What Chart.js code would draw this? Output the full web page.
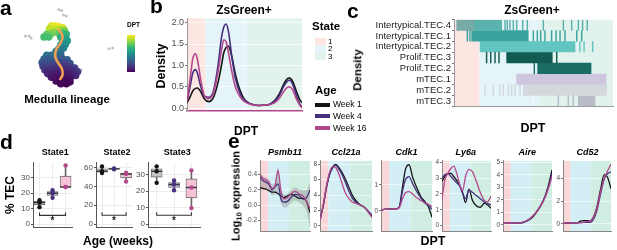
<!DOCTYPE html>
<html>
<head>
<meta charset="utf-8">
<script src="https://cdn.jsdelivr.net/npm/chart.js@4.4.0/dist/chart.umd.min.js"></script>
<style>
  body { margin: 0; width: 617px; height: 250px; background: #fff; position: relative; overflow: hidden;
         font-family: "Liberation Sans", Arial, sans-serif; color: #000; }
  canvas { position: absolute; }
  .t { position: absolute; white-space: nowrap; line-height: 1; }
  .sw { position: absolute; }
  .sub { font-size: 70%; position: relative; top: 0.25em; }
</style>
</head>
<body>
<script>
// ---------- data ----------
const ageLabels = ['Week 1', 'Week 4', 'Week 16'];
const stateLabels = ['1', '2', '3'];

// a: UMAP of the medulla lineage, coloured by DPT
const umap1 = [5.0, 5.4, 5.8, 6.2, 4.8, 5.2, 5.6, 6.0, 6.4, 5.2, 4.5, 4.9, 4.2, 4.7,
  5.8, 6.2, 6.6, 6.0, 6.4, 6.7, 6.2, 6.5, 6.0, 6.3, 5.8, 5.5, 6.0,
  4.5, 5.0, 5.5, 6.0, 4.2, 4.7, 5.2, 5.7, 6.2, 6.7,
  4.0, 4.5, 5.0, 5.5, 6.0, 6.5, 7.0, 4.1, 4.6, 5.1, 5.6, 6.1, 6.6, 7.1, 7.5,
  4.3, 4.8, 5.3, 5.8, 6.3, 6.8, 7.3, 7.8, 4.6, 5.1, 5.6, 6.1, 6.6, 7.1, 7.6,
  5.0, 5.5, 6.0, 6.5, 7.0, 5.5, 6.0, 6.5, 7.0, 6.0, 6.6];
const umap2 = [2.4, 2.4, 2.5, 2.6, 2.7, 2.7, 2.8, 2.8, 2.9, 3.1, 3.3, 3.3, 3.6, 3.6,
  3.2, 3.2, 3.3, 3.6, 3.7, 4.0, 4.1, 4.4, 4.5, 4.8, 4.9, 5.2, 5.2,
  5.6, 5.6, 5.6, 5.6, 6.0, 6.0, 6.0, 6.0, 6.0, 6.1,
  6.4, 6.4, 6.4, 6.4, 6.4, 6.4, 6.5, 6.8, 6.8, 6.8, 6.8, 6.8, 6.8, 6.9, 7.0,
  7.2, 7.2, 7.2, 7.2, 7.2, 7.2, 7.3, 7.4, 7.6, 7.6, 7.6, 7.6, 7.6, 7.7, 7.8,
  8.0, 8.0, 8.0, 8.0, 8.1, 8.4, 8.4, 8.4, 8.5, 8.7, 8.7];
const umapDpt = [.95, .97, .98, .95, .9, .93, .9, .88, .8, .82, .75, .78, .7, .7,
  .75, .7, .65, .62, .6, .55, .55, .5, .48, .45, .42, .4, .4,
  .38, .36, .35, .33, .33, .3, .3, .3, .28, .3,
  .27, .25, .25, .24, .22, .22, .25, .2, .2, .18, .17, .17, .16, .18, .2,
  .15, .14, .13, .12, .12, .12, .12, .15, .1, .09, .08, .08, .08, .08, .1,
  .06, .05, .04, .05, .05, .03, .02, .02, .03, .01, .01];
const otherUmap1 = [5.8, 6.1, 6.3, 6.6, 2.2, 2.6, 2.8, 11.2, 11.6, 7.9, 8.2];
const otherUmap2 = [0.6, 0.7, 1.2, 1.3, 3.5, 3.5, 3.7, 4.9, 4.8, 7.1, 7.2];
const trajUmap1 = [5.7, 6.2, 6.0, 5.5, 5.4, 5.7, 6.1, 6.2, 5.9];
const trajUmap2 = [2.7, 3.5, 4.2, 5.0, 5.7, 6.4, 7.0, 7.7, 8.3];

// b: DPT density per age (ZsGreen+)
const densX = [0, .03, .05, .074, .09, .12, .15, .19, .23, .27, .30, .32, .34, .36, .39, .42, .46, .50, .55, .62, .70, .76, .80, .84, .87, .89, .92, .95, .98, 1];
const densWeek1 = [.12, .28, .4, .46, .47, .38, .22, .15, .25, .6, 1.0, 1.3, 1.42, 1.45, 1.2, .8, .42, .2, .1, .06, .07, .17, .32, .55, .68, .7, .62, .4, .2, .12];
const densWeek4 = [.15, .55, .82, .9, .82, .5, .28, .25, .4, 1.0, 1.65, 1.9, 1.97, 1.8, 1.2, .7, .35, .18, .1, .06, .07, .15, .28, .5, .62, .65, .55, .3, .1, .03];
const densWeek16 = [.15, .75, 1.15, 1.27, 1.15, .65, .3, .22, .35, .85, 1.35, 1.6, 1.55, 1.3, .85, .5, .27, .15, .09, .06, .07, .12, .22, .38, .48, .5, .42, .22, .07, 0];
const densTicks = [0, 0.5, 1, 1.5, 2];
const stateBreaks = [0, 0.16, 0.53, 1];

// c: cells of each type along DPT
const cellTypes = ['Intertypical.TEC.4', 'Intertypical.TEC.1', 'Intertypical.TEC.2', 'Prolif.TEC.3',
  'Prolif.TEC.2', 'mTEC.1', 'mTEC.2', 'mTEC.3'];
const cellBars = [[[.017, .13], [.13, .30]], [[.111, .467]], [[.164, .761]], [[.331, .618]],
  [[.526, .862]], [[.394, .956]], [[.436, .96]], [[.782, .887]]];
const cellTicks = [
  [.321, .335, .352, .373, .394, .432, .461, .562, .688, .740, .782, .809, .838],
  [.084, .1, .499, .524, .545, .572, .614, .642, .667, .698, .772, .803],
  [.792, .818, .872],
  [.205, .231, .258, .283, .646],
  [.505],
  [],
  [.195, .247, .289, .310, .342, .363, .384, .415],
  [.656, .719, .75]];

// d: % TEC per state and age
const state1Dots = [[11, 14, 15.5], [17, 20, 22], [24, 24, 38]];
const state2Dots = [[54, 56, 61], [58, 58.5, 59], [45, 53, 54.5]];
const state3Dots = [[25, 32, 35], [20.5, 24, 26.5], [9.7, 22.2, 32.6]];
const state1Ticks = [0, 10, 20, 30];
const state2Ticks = [0, 20, 40, 60];
const state3Ticks = [0, 10, 20, 30];
const bracketY = [5.7, 9.4, 5.4];
const bracketTop = [7.6, 12.6, 7.2];
const starY = [1.6, 3.2, 1.5];

// e: smoothed expression along DPT
const eX = [0, .06, .12, .18, .24, .3, .36, .42, .48, .55, .62, .7, .78, .86, .93, 1];
const psmb11Week1 = [.23, .22, .21, .19, .17, .17, .15, .12, .1, .12, .14, .12, .09, .09, .05, -.1];
const psmb11Week4 = [.37, .32, .3, .27, .2, .24, .28, .08, .04, .05, .1, .14, .13, .08, .1, .2];
const psmb11Week16 = [.4, .35, .33, .3, .22, .25, .46, .18, .08, .1, .15, .18, .15, .12, .05, -.05];
const psmb11Lo = [.17, .2, .2, .18, .13, .14, .16, .02, -.03, -.02, .03, .06, .04, -.01, -.08, -.3];
const psmb11Hi = [.44, .38, .36, .33, .27, .3, .5, .22, .14, .15, .2, .23, .21, .2, .2, .3];
const ccl21aWeek1 = [.8, 2.5, 4.8, 6.6, 7.6, 8.0, 7.6, 7.0, 6.2, 5.1, 4.0, 3.2, 2.7, 2.4, 1.8, 1.2];
const ccl21aWeek4 = [.8, 2.6, 4.9, 6.6, 7.5, 7.9, 7.4, 6.7, 5.8, 4.6, 3.6, 3.0, 2.7, 2.4, 1.9, 1.4];
const ccl21aWeek16 = [.8, 2.7, 5.1, 6.9, 7.7, 7.6, 6.8, 5.6, 4.4, 3.6, 3.1, 2.9, 2.7, 2.4, 1.8, 1.1];
const cdk1Week1 = [.02, .05, .06, .06, .07, .07, .15, .9, 1.6, 1.78, 1.3, .9, .55, .35, .15, -.25];
const cdk1Week4 = [.02, .05, .06, .06, .07, .07, .15, .75, 1.2, 1.32, 1.05, .75, .5, .3, .2, .05];
const cdk1Week16 = [.02, .05, .06, .06, .07, .07, .12, .45, .7, .74, .65, .5, .4, .3, .25, .15];
const ly6aWeek1 = [2.8, 3.1, 3.3, 3.3, 3.1, 2.85, 2.55, 2.1, 1.45, 2.3, 1.6, 1.25, 1.15, 1.4, 1.3, 1.1];
const ly6aWeek4 = [3.0, 3.2, 3.3, 3.1, 2.9, 2.7, 2.5, 2.05, 1.7, 2.25, 2.1, 1.9, 1.7, 1.5, 1.4, 1.3];
const ly6aWeek16 = [1.7, 2.9, 3.3, 3.6, 3.75, 3.3, 2.6, 2.2, 3.1, 3.55, 3.4, 2.8, 2.1, 1.6, 1.5, 1.85];
const aireWeek1 = [.12, .15, .16, .17, .17, .16, .16, .2, .3, .45, .7, 1.1, 1.6, 2.3, 3.2, 4.4];
const aireWeek4 = [.12, .15, .16, .17, .17, .16, .17, .22, .33, .5, .75, 1.15, 1.65, 2.3, 3.1, 4.1];
const aireWeek16 = [.12, .15, .16, .17, .17, .17, .18, .24, .35, .52, .78, 1.15, 1.6, 2.2, 2.95, 3.9];
const cd52Week1 = [.05, .07, .08, .08, .09, .1, .25, .3, .3, .28, .5, 1.4, 3.0, 4.35, 4.1, 3.1];
const cd52Week4 = [.05, .07, .08, .08, .09, .1, .12, .14, .15, .15, .3, 1.1, 2.6, 4.0, 4.45, 4.6];
const cd52Week16 = [.05, .07, .08, .08, .09, .1, .12, .15, .2, .25, .45, 1.3, 2.8, 4.0, 4.7, 5.3];
const psmb11Ticks = [-0.2, 0, 0.2, 0.4];
const ccl21aTicks = [0, 2, 4, 6, 8];
const cdk1Ticks = [0, 1];
const ly6aTicks = [0, 1, 2, 3, 4];
const aireTicks = [0, 1, 2, 3, 4, 5];
const cd52Ticks = [0, 2, 4];
const eBreaks = [0, 0.16, 0.58, 1];

// ---------- styles ----------
const ageColors = ['#141414', '#46307e', '#b4488c'];
const shadeB = ['#fde5e2', '#e4f4f8', '#e2f3ed'];
const shadeE = ['#f9d6d7', '#d3eef5', '#cfeee1'];
const boxFill = ['#c4c4c4', '#b6b0d5', '#f4c3d8'];
const cellColors = ['#5ab2ad', '#3aa39e', '#63c5bf', '#115b53', '#1b6c64', '#cdc6de', '#d4d8dc', '#b9bcc6'];
const cellColorsAlt = ['#78aaa7', null, null, null, null, null, null, null];
const tickHalfWidth = 0.0025;
const viridisStops = ['#440154', '#482878', '#3e4989', '#31688e', '#26828e', '#1f9e89', '#35b779', '#6ece58', '#b5de2b', '#fde725'];

Chart.defaults.font.family = '"Liberation Sans", Arial, sans-serif';
Chart.defaults.color = '#4d4d4d';

function viridis(v) {
  const p = Math.max(0, Math.min(1, v)) * (viridisStops.length - 1);
  const i = Math.min(Math.floor(p), viridisStops.length - 2), f = p - i;
  const a = viridisStops[i], b = viridisStops[i + 1];
  const ch = (h, k) => parseInt(h.substr(1 + 2 * k, 2), 16);
  return 'rgb(' + [0, 1, 2].map(k => Math.round(ch(a, k) + (ch(b, k) - ch(a, k)) * f)).join(',') + ')';
}

function makeCanvas(b) {
  const c = document.createElement('canvas');
  const w = Math.round(b.R - b.L + b.yW + b.pr), h = Math.round(b.B - b.T + b.pt + b.xH);
  c.width = w; c.height = h;
  c.style.width = w + 'px'; c.style.height = h + 'px';
  c.style.left = (b.L - b.yW) + 'px'; c.style.top = (b.T - b.pt) + 'px';
  document.body.appendChild(c);
  return c;
}

function baseOptions(b) {
  return {
    responsive: false, animation: false, devicePixelRatio: 1,
    layout: { padding: { top: b.pt, right: b.pr, left: 0, bottom: 0 } },
    plugins: { legend: { display: false }, tooltip: { enabled: false } },
  };
}

function shadePlugin(breaks, colors) {
  return {
    id: 'shade',
    beforeDraw(chart) {
      const { ctx, chartArea: a, scales: { x } } = chart;
      ctx.save();
      colors.forEach((col, i) => {
        const x0 = x.getPixelForValue(breaks[i]), x1 = x.getPixelForValue(breaks[i + 1]);
        ctx.fillStyle = col;
        ctx.fillRect(x0, a.top, x1 - x0, a.bottom - a.top);
      });
      ctx.restore();
    }
  };
}

function label(txt, x, y, size, o = {}) {
  const d = document.createElement('div');
  d.className = 't';
  d.innerHTML = txt;
  d.style.fontSize = size + 'px';
  d.style.fontWeight = o.bold === false ? 'normal' : 'bold';
  if (o.italic) d.style.fontStyle = 'italic';
  if (o.color) d.style.color = o.color;
  d.style.left = x + 'px';
  let tr = '';
  if (o.rot) {
    d.style.top = y + 'px';
    tr = 'translate(-50%,-50%) rotate(-90deg)';
  } else {
    d.style.top = (y - 0.846 * size) + 'px';
    if (o.align === 'c') tr = 'translateX(-50%)';
    if (o.align === 'r') tr = 'translateX(-100%)';
  }
  d.style.transform = tr;
  document.body.appendChild(d);
}

function swatch(x, y, w, h, col) {
  const d = document.createElement('div');
  d.className = 'sw';
  Object.assign(d.style, { left: x + 'px', top: y + 'px', width: w + 'px', height: h + 'px', background: col });
  document.body.appendChild(d);
}

const pts = (xs, ys) => xs.map((x, i) => ({ x, y: ys[i] }));
const fixTicks = arr => s => { s.ticks = arr.map(v => ({ value: v })); };

// ---------- a ----------
{
  const b = { L: 15, R: 125, T: 0, B: 95, yW: 0, xH: 0, pt: 0, pr: 0 };
  new Chart(makeCanvas(b), {
    type: 'scatter',
    data: { datasets: [
      { type: 'line', data: pts(trajUmap1, trajUmap2), borderColor: '#f0a055', borderWidth: 2.6,
        pointRadius: 0, tension: 0.4, order: 0 },
      { data: pts(umap1, umap2), pointRadius: 3.8, pointBorderWidth: 0,
        pointBackgroundColor: ctx => viridis(umapDpt[ctx.dataIndex]), order: 1 },
      { data: pts(otherUmap1, otherUmap2), pointRadius: 1.5, pointBorderWidth: 0,
        pointBackgroundColor: '#c2c2c2', order: 2 },
    ] },
    options: { ...baseOptions(b),
      scales: { x: { display: false, min: 1.5, max: 12.5 }, y: { display: false, reverse: true, min: 0, max: 9.5 } } }
  });
  const bar = document.createElement('div');
  Object.assign(bar.style, { position: 'absolute', left: '127px', top: '35px', width: '8px', height: '37px',
    background: 'linear-gradient(to top,' + viridisStops.join(',') + ')' });
  document.body.appendChild(bar);
  label('a', 0, 15, 21);
  label('DPT', 127, 27.5, 6.5);
  label('Medulla lineage', 67, 104, 11.5, { align: 'c' });
}

// ---------- b ----------
{
  const b = { L: 187, R: 302, T: 15, B: 116, yW: 30, xH: 1, pt: 3, pr: 2 };
  const series = [densWeek1, densWeek4, densWeek16];
  new Chart(makeCanvas(b), {
    type: 'line',
    data: { datasets: series.map((s, i) => ({
      data: pts(densX, s), borderColor: ageColors[i], borderWidth: 1.6, pointRadius: 0,
      cubicInterpolationMode: 'monotone', order: 3 - i })) },
    options: { ...baseOptions(b),
      scales: {
        x: { type: 'linear', min: 0, max: 1, ticks: { display: false },
             grid: { color: 'rgba(255,255,255,0.75)', drawTicks: false },
             border: { color: ageColors[2], width: 1.5 }, afterFit: s => { s.height = b.xH; } },
        y: { min: -0.06, max: 2.1, afterBuildTicks: fixTicks(densTicks),
             ticks: { font: { size: 9 }, padding: 1, callback: v => v.toFixed(1) },
             grid: { color: 'rgba(255,255,255,0.75)', tickColor: '#777', tickLength: 2 },
             border: { color: '#999', width: 1 }, afterFit: s => { s.width = b.yW; } }
      } },
    plugins: [shadePlugin(stateBreaks, shadeB)]
  });
  label('b', 150, 13, 21);
  label('ZsGreen+', 244, 14.5, 12, { align: 'c' });
  label('Density', 161, 66, 12.5, { rot: true });
  label('DPT', 246, 135, 12, { align: 'c' });

  // legend
  label('State', 312, 31, 11.5);
  stateLabels.forEach((s, i) => {
    swatch(315, 37.5 + i * 7.5, 11, 7.5, shadeB[i]);
    label(s, 328, 44.5 + i * 7.5, 8, { bold: false });
  });
  label('Age', 315, 95, 11.5);
  ageLabels.forEach((s, i) => {
    swatch(315, 102.5 + i * 11.7, 15, 4, ageColors[i]);
    label(s, 333, 107.5 + i * 11.7, 8.5, { bold: false });
  });
}

// ---------- c ----------
{
  const b = { L: 454, R: 613, T: 15, B: 112, yW: 100, xH: 1, pt: 2, pr: 2 };
  const datasets = [];
  cellTypes.forEach((name, r) => {
    datasets.push({ grouped: false, barThickness: 10.5, order: 2,
      data: cellBars[r].map(seg => ({ x: seg, y: name })),
      backgroundColor: cellBars[r].map((seg, k) => (k === 0 && cellColorsAlt[r]) ? cellColorsAlt[r] : cellColors[r]) });
    datasets.push({ grouped: false, barThickness: 10.5, order: 1,
      data: cellTicks[r].map(t => ({ x: [t - tickHalfWidth, t + tickHalfWidth], y: name })),
      backgroundColor: cellColors[r] });
  });
  new Chart(makeCanvas(b), {
    type: 'bar',
    data: { labels: cellTypes, datasets },
    options: { ...baseOptions(b), indexAxis: 'y',
      scales: {
        x: { type: 'linear', min: 0, max: 1, ticks: { display: false },
             grid: { color: 'rgba(255,255,255,0.7)', drawTicks: false },
             border: { color: '#999', width: 1 }, afterFit: s => { s.height = b.xH; } },
        y: { type: 'category', offset: true,
             ticks: { font: { size: 9.5 }, color: '#222', padding: 1, autoSkip: false },
             grid: { drawOnChartArea: false, tickLength: 2, tickColor: '#777' },
             border: { color: '#999', width: 1 }, afterFit: s => { s.width = b.yW; } }
      } },
    plugins: [shadePlugin(stateBreaks, shadeB)]
  });
  label('c', 347, 18, 21);
  label('ZsGreen+', 532, 14, 12, { align: 'c' });
  label('Density', 358, 70, 11.5, { rot: true });
  label('DPT', 533, 133, 12.5, { align: 'c' });
}

// ---------- d ----------
function quantile(arr, p) {
  const s = [...arr].sort((a, b) => a - b);
  const h = (s.length - 1) * p, lo = Math.floor(h);
  return s[lo] + (s[Math.min(lo + 1, s.length - 1)] - s[lo]) * (h - lo);
}
{
  const stateDots = [state1Dots, state2Dots, state3Dots];
  const stateTicks = [state1Ticks, state2Ticks, state3Ticks];
  const boxes = [
    { L: 32.7, R: 78, min: -1.9, max: 39.6 },
    { L: 96, R: 138, min: -3.1, max: 64.8 },
    { L: 148.3, R: 206, min: -1.8, max: 37.1 }];
  boxes.forEach((bx, s) => {
    const b = { ...bx, T: 158, B: 232.7, yW: 16, xH: 1, pt: 2, pr: 1 };
    const dots = stateDots[s];
    const q1 = dots.map(d => quantile(d, 0.25)), q3 = dots.map(d => quantile(d, 0.75));
    const med = dots.map(d => quantile(d, 0.5));
    const whisk = dots.map((d, i) => {
      const iqr = q3[i] - q1[i];
      const inside = d.filter(v => v >= q1[i] - 1.5 * iqr && v <= q3[i] + 1.5 * iqr);
      return [Math.min(...inside), Math.max(...inside)];
    });
    const dotData = [];
    dots.forEach((d, i) => d.forEach(v => dotData.push({ x: ageLabels[i], y: v })));
    const starPlugin = {
      id: 'star',
      afterDatasetsDraw(chart) {
        const { ctx, scales: { x, y } } = chart;
        ctx.save();
        ctx.fillStyle = '#222';
        ctx.font = 'bold 10px "Liberation Sans", Arial, sans-serif';
        ctx.textAlign = 'center'; ctx.textBaseline = 'middle';
        ctx.fillText('*', x.getPixelForValue(1), y.getPixelForValue(starY[s]));
        ctx.restore();
      }
    };
    new Chart(makeCanvas(b), {
      type: 'bar',
      data: { labels: ageLabels, datasets: [
        { data: whisk, grouped: false, barThickness: 1, backgroundColor: '#666', order: 4 },
        { data: q1.map((v, i) => [v, q3[i]]), grouped: false, barThickness: 11, backgroundColor: boxFill,
          borderColor: '#666', borderWidth: 0.8, borderSkipped: false, order: 3 },
        { type: 'line', data: med, showLine: false, pointStyle: 'line', pointRadius: 5.5,
          pointBorderColor: '#333', pointBorderWidth: 1.4, order: 2 },
        { type: 'line', data: dotData, showLine: false, pointRadius: 2.2, pointBorderWidth: 0,
          pointBackgroundColor: ctx => ageColors[ageLabels.indexOf(ctx.raw.x)], order: 1 },
        { type: 'line', data: [{ x: ageLabels[0], y: bracketTop[s] }, { x: ageLabels[0], y: bracketY[s] },
          { x: ageLabels[2], y: bracketY[s] }, { x: ageLabels[2], y: bracketTop[s] }],
          borderColor: '#333', borderWidth: 1.1, pointRadius: 0, tension: 0, order: 0 },
      ] },
      options: { ...baseOptions(b),
        scales: {
          x: { ticks: { display: false }, grid: { color: '#ececec', offset: false, drawTicks: false },
               border: { color: '#555', width: 1 }, afterFit: sc => { sc.height = b.xH; } },
          y: { min: b.min, max: b.max, afterBuildTicks: fixTicks(stateTicks[s]),
               ticks: { font: { size: 8 }, padding: 1 },
               grid: { color: '#ececec', tickColor: '#555', tickLength: 2 },
               border: { color: '#555', width: 1 }, afterFit: sc => { sc.width = b.yW; } }
        } },
      plugins: [starPlugin]
    });
    label('State' + (s + 1), (b.L + b.R) / 2, 156, 9, { align: 'c' });
  });
  label('d', 0, 149, 21);
  label('% TEC', 10, 195, 12, { rot: true });
  label('Age (weeks)', 118, 245, 12, { align: 'c' });
}

// ---------- e ----------
{
  const genes = [
    { name: 'Psmb11', series: [psmb11Week1, psmb11Week4, psmb11Week16], ticks: psmb11Ticks, dec: 1,
      band: [psmb11Lo, psmb11Hi], L: 260, R: 310, min: -0.34, max: 0.58 },
    { name: 'Ccl21a', series: [ccl21aWeek1, ccl21aWeek4, ccl21aWeek16], ticks: ccl21aTicks, dec: 0,
      L: 320, R: 372, min: -0.67, max: 8.44 },
    { name: 'Cdk1', series: [cdk1Week1, cdk1Week4, cdk1Week16], ticks: cdk1Ticks, dec: 0,
      L: 381, R: 432, min: -0.79, max: 1.93 },
    { name: 'Ly6a', series: [ly6aWeek1, ly6aWeek4, ly6aWeek16], ticks: ly6aTicks, dec: 0,
      L: 441.5, R: 490, min: -0.34, max: 4.08 },
    { name: 'Aire', series: [aireWeek1, aireWeek4, aireWeek16], ticks: aireTicks, dec: 0,
      L: 502.7, R: 551.7, min: -0.49, max: 5.12 },
    { name: 'Cd52', series: [cd52Week1, cd52Week4, cd52Week16], ticks: cd52Ticks, dec: 0,
      L: 563.3, R: 611.7, min: -0.63, max: 5.57 }];
  genes.forEach(g => {
    const b = { L: g.L, R: g.R, T: 158, B: 235, yW: 16, xH: 1, pt: 2, pr: 1 };
    const datasets = g.series.map((s, i) => ({
      data: pts(eX, s), borderColor: ageColors[i], borderWidth: 1.3, pointRadius: 0,
      cubicInterpolationMode: 'monotone', order: 3 - i }));
    if (g.band) {
      datasets.push({ data: pts(eX, g.band[0]), borderWidth: 0, pointRadius: 0,
        cubicInterpolationMode: 'monotone', order: 10 });
      datasets.push({ data: pts(eX, g.band[1]), borderWidth: 0, pointRadius: 0, fill: '-1',
        backgroundColor: 'rgba(130,130,130,0.35)', cubicInterpolationMode: 'monotone', order: 9 });
    }
    new Chart(makeCanvas(b), {
      type: 'line',
      data: { datasets },
      options: { ...baseOptions(b),
        scales: {
          x: { type: 'linear', min: 0, max: 1, ticks: { display: false },
               grid: { color: 'rgba(255,255,255,0.6)', drawTicks: false },
               border: { color: '#888', width: 1 }, afterFit: s => { s.height = b.xH; } },
          y: { min: g.min, max: g.max, afterBuildTicks: fixTicks(g.ticks),
               ticks: { font: { size: 6.5 }, padding: 1, callback: v => v.toFixed(g.dec) },
               grid: { color: 'rgba(255,255,255,0.6)', tickColor: '#777', tickLength: 2 },
               border: { color: '#888', width: 1 }, afterFit: s => { s.width = b.yW; } }
        } },
      plugins: [shadePlugin(eBreaks, shadeE)]
    });
    label(g.name, (g.L + g.R) / 2, 156, 9, { align: 'c', italic: true });
  });
  label('e', 228, 148, 21);
  label('Log<span class="sub">10</span> expression', 236, 196, 11, { rot: true });
  label('DPT', 433, 246, 12.5, { align: 'c' });
}
</script>
</body>
</html>
